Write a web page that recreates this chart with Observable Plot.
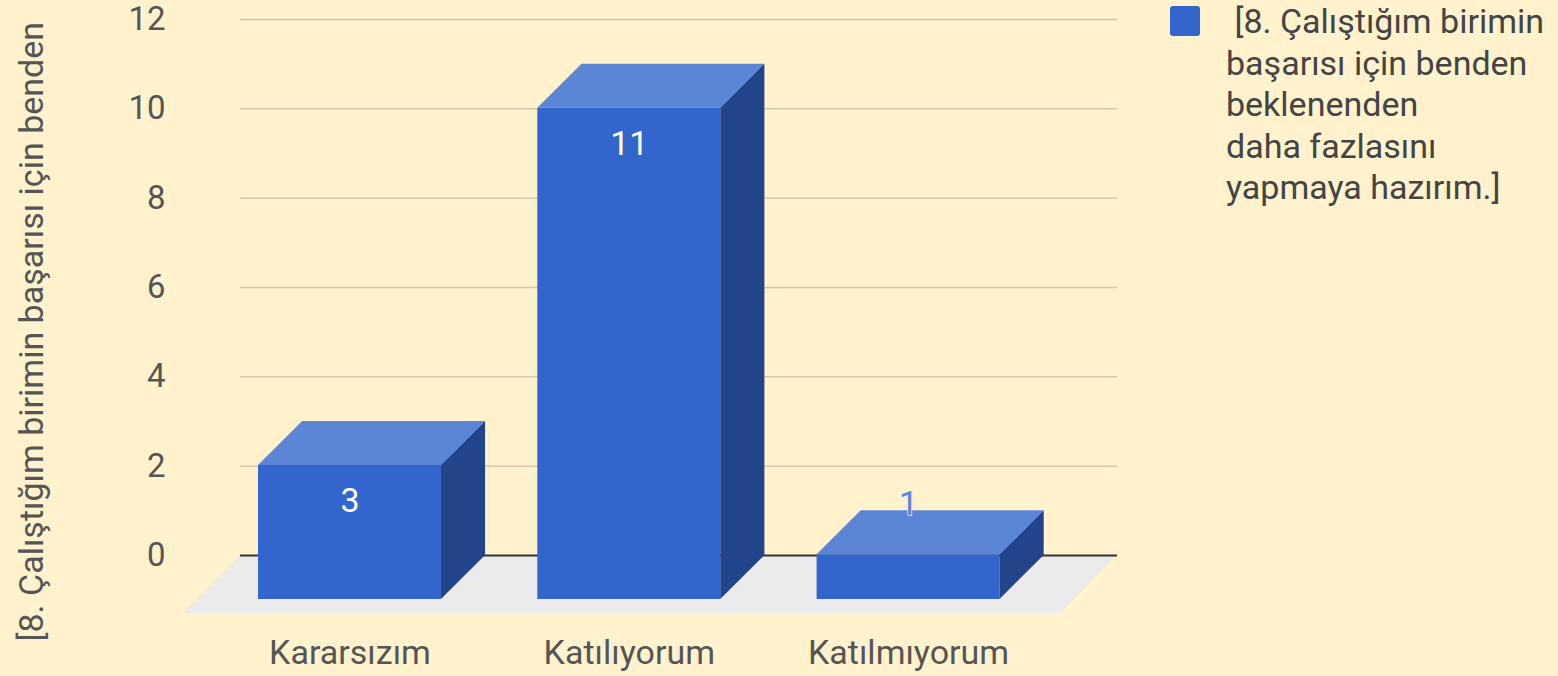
<!DOCTYPE html>
<html>
<head>
<meta charset="utf-8">
<script src="https://cdn.jsdelivr.net/npm/d3@7"></script>
<script src="https://cdn.jsdelivr.net/npm/@observablehq/plot@0.6"></script>
<style>
  html, body { margin: 0; padding: 0; background: #fff2cc; }
  #wrap { position: relative; width: 1558px; height: 676px; overflow: hidden; }
  #legend { position: absolute; left: 1170px; top: 1px; font-family: Roboto, sans-serif; font-size: 34px; line-height: 41.5px; color: #444; }
  #legend .sw { position: absolute; left: 0; top: 5px; width: 30px; height: 30px; background: #3366cc; border-radius: 3px; }
  #legend .txt { position: absolute; left: 56px; top: 0; white-space: pre; }
</style>
</head>
<body>
<div id="wrap"></div>
<script>
// ---- data ----
const categories = ["Kararsızım", "Katılıyorum", "Katılmıyorum"];
const values = [3, 11, 1];
const yTicks = [0, 2, 4, 6, 8, 10, 12];
const axisTitle = "[8. Çalıştığım birimin başarısı için benden";
const legendLines = [" [8. Çalıştığım birimin", "başarısı için benden", "beklenenden", "daha fazlasını", "yapmaya hazırım.]"];

// ---- 3D look constants (in scale units) ----
const W = 0.655;   // bar front width
const DX = 0.158;  // bar depth, x
const DY = 0.985;  // bar depth, y
const FX = 0.204;  // floor depth, x
const FY = 1.298;  // floor depth, y
const xLo = -0.392, xHi = 2.748;

const bars = categories.map((c, i) => ({c, i, v: values[i]}));
const topPts = bars.flatMap(d => [
  {i: d.i, y: d.v - DY, x1: d.i - W / 2, x2: d.i + W / 2},
  {i: d.i, y: d.v, x1: d.i - W / 2 + DX, x2: d.i + W / 2 + DX}
]);
const sidePts = bars.flatMap(d => [
  {i: d.i, x: d.i + W / 2, y1: -DY, y2: d.v - DY},
  {i: d.i, x: d.i + W / 2 + DX, y1: 0, y2: d.v}
]);
const floorPts = [
  {y: -FY, x1: xLo - FX, x2: xHi - FX},
  {y: 0, x1: xLo, x2: xHi}
];

const chart = Plot.plot({
  width: 1558,
  height: 676,
  marginLeft: 240,
  marginRight: 441,
  marginTop: 19,
  marginBottom: 121,
  style: {fontFamily: "Roboto, sans-serif", fontSize: "34px", background: "#fff2cc"},
  x: {domain: [xLo, xHi]},
  y: {domain: [0, 12]},
  marks: [
    Plot.areaX(floorPts, {y: "y", x1: "x1", x2: "x2", fill: "#ebebeb", curve: "linear"}),
    Plot.gridY({ticks: yTicks.filter(t => t > 0), stroke: "#d2c9ab", strokeOpacity: 1, strokeWidth: 1.5}),
    Plot.ruleY([0], {stroke: "#333", strokeWidth: 2}),
    Plot.axisY({ticks: yTicks, tickSize: 0, tickPadding: 75, fontSize: 33, fill: "#555", label: null}),
    Plot.axisX({ticks: [0, 1, 2], tickFormat: i => categories[i], tickSize: 0, tickPadding: 84, fontSize: 34, fill: "#555", label: null}),
    Plot.text([axisTitle], {frameAnchor: "bottom-left", text: d => d, rotate: -90, textAnchor: "start", dx: -198, dy: 86, fontSize: 34, fill: "#555"}),
    Plot.rect(bars, {x1: d => d.i - W / 2, x2: d => d.i + W / 2, y1: d => -DY, y2: d => d.v - DY, fill: "#3366cc"}),
    Plot.areaX(topPts, {y: "y", x1: "x1", x2: "x2", z: "i", fill: "#5c85d6", curve: "linear"}),
    Plot.areaY(sidePts, {x: "x", y1: "y1", y2: "y2", z: "i", fill: "#22448a", curve: "linear"}),
    Plot.text(bars.filter(d => d.v >= 2), {x: "i", y: d => d.v - DY - 0.8, text: d => String(d.v), fill: "white", fontSize: 34}),
    Plot.text(bars.filter(d => d.v < 2), {x: "i", y: d => d.v + 0.15, text: d => String(d.v), fill: "#5c85d6", stroke: "#e8eefa", strokeWidth: 1.5, paintOrder: "stroke", fontSize: 34})
  ]
});

const wrap = document.getElementById("wrap");
wrap.appendChild(chart);
const legend = document.createElement("div");
legend.id = "legend";
legend.innerHTML = '<div class="sw"></div><div class="txt"></div>';
legend.querySelector(".txt").textContent = legendLines.join("\n");
wrap.appendChild(legend);
</script>
</body>
</html>
